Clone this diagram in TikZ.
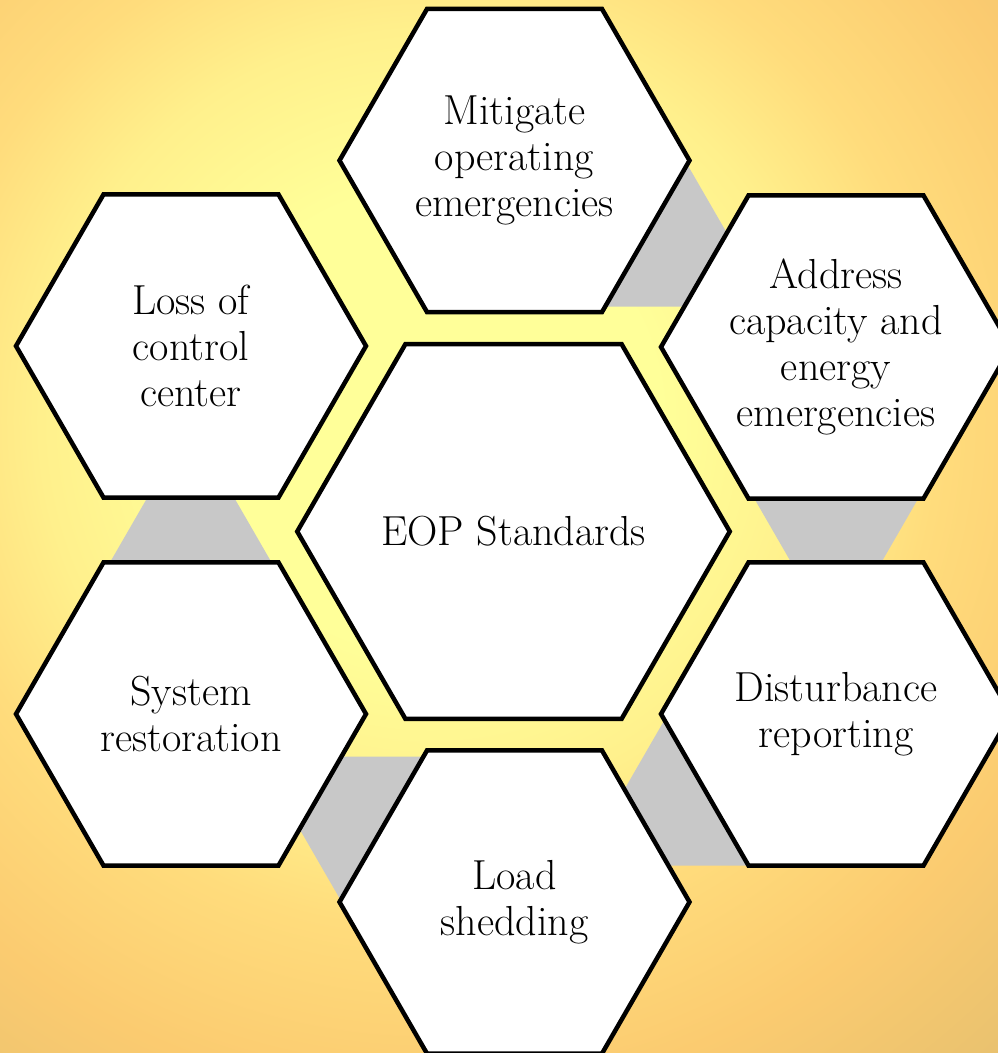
\documentclass[tikz,border=0pt]{standalone}
\usetikzlibrary{shapes.geometric}
\definecolor{bgA}{HTML}{FFFF99}
\definecolor{bgB}{HTML}{FFF08C}
\definecolor{bgC}{HTML}{FFDC7C}
\definecolor{bgD}{HTML}{FBCB70}
\definecolor{bgE}{HTML}{E2BE6E}
\definecolor{grayc}{HTML}{C8C8C8}
\pgfdeclareradialshading{bgshade}{\pgfpoint{0pt}{0pt}}{color(0pt)=(bgA); color(230pt)=(bgA); color(390pt)=(bgB); color(510pt)=(bgC); color(680pt)=(bgD); color(920pt)=(bgE)}
\newcommand{\hexfont}{\fontsize{42}{46}\selectfont}
\tikzset{
  hexo/.style={regular polygon, regular polygon sides=6, minimum size=350pt,
    inner sep=0pt, draw=black, line width=4.5pt, fill=white, align=center,
    font=\hexfont, line join=miter},
  hexc/.style={hexo, minimum size=430pt},
  graybar/.style={fill=grayc, draw=none}
}
\begin{document}
\begin{tikzpicture}[x=1pt,y=-1pt]
\useasboundingbox (0,0) rectangle (998,1053);
\begin{scope}
\clip (0,0) rectangle (998,1053);
\node[inner sep=0pt] (bg) at (430,420) {\pgfuseshading{bgshade}};
\foreach \k in {0,...,4}{
  \fill[graybar, rotate around={-60*\k:(513.5,531.5)}]
    (685,160.5) -- (743.3,261.5) -- (713.5,306.5) -- (573.5,306.5) -- cycle;
}
\node[hexc] (c) at (513.5,531.5) {EOP Standards};
\node[hexo] (m) at (514.5,160.5) {Mitigate\\operating\\emergencies};
\node[hexo] (a) at (836,347) {Address\\capacity and\\energy\\emergencies};
\node[hexo] (d) at (836,714) {Disturbance\\reporting};
\node[hexo] (l) at (514.5,902) {Load\\shedding};
\node[hexo] (s) at (191,714) {System\\restoration};
\node[hexo] (lo) at (191,346) {Loss of\\control\\center};
\end{scope}
\end{tikzpicture}
\end{document}
